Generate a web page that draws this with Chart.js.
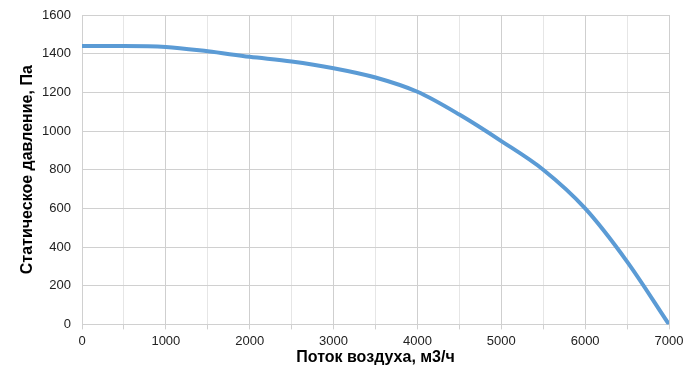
<!DOCTYPE html>
<html>
<head>
<meta charset="utf-8">
<script src="https://cdn.jsdelivr.net/npm/chart.js@4.4.1/dist/chart.umd.min.js"></script>
<style>
  body { margin: 0; background: #fff; }
  #wrap { width: 700px; height: 388px; }
</style>
</head>
<body>
<div id="wrap"><canvas id="fanChart" width="700" height="388"></canvas></div>
<script>
// кривая вентилятора
const flow = [0, 500, 1000, 1500, 2000, 2500, 3000, 3500, 4000, 4500, 5000, 5500, 6000, 6500, 7000];
const pressure = [1440, 1440, 1435, 1412, 1384, 1360, 1325, 1277, 1203, 1085, 948, 800, 600, 325, 0];
const xTitle = 'Поток воздуха, м3/ч';
const yTitle = 'Статическое давление, Па';

const points = flow.map((x, i) => ({ x: x, y: pressure[i] }));

function gridCol(ctx) {
  if (!ctx.tick) return '#d9d9d9';
  return ctx.tick.value % 1000 === 0 ? '#cfcfcf' : '#e6e6e6';
}

new Chart(document.getElementById('fanChart').getContext('2d'), {
  type: 'line',
  data: {
    datasets: [{
      data: points,
      borderColor: '#5b9bd5',
      borderWidth: 4,
      pointRadius: 0,
      fill: false,
      cubicInterpolationMode: 'monotone'
    }]
  },
  options: {
    responsive: false,
    animation: false,
    layout: { padding: { left: 14, right: 31, top: 15, bottom: 18 } },
    plugins: { legend: { display: false }, tooltip: { enabled: false } },
    scales: {
      x: {
        type: 'linear',
        min: 0,
        max: 7000,
        ticks: {
          stepSize: 500,
          autoSkip: false,
          maxRotation: 0,
          color: '#222',
          font: { family: 'Liberation Sans', size: 13 },
          padding: 4,
          callback: v => (v % 1000 === 0 ? String(v) : '')
        },
        grid: { color: gridCol, tickLength: 5, tickColor: '#d0d0d0' },
        border: { color: '#d0d0d0' },
        title: {
          display: true,
          text: xTitle,
          color: '#000',
          font: { family: 'Liberation Sans', size: 16, weight: 'bold', lineHeight: 1 },
          padding: { top: -3 }
        }
      },
      y: {
        min: 0,
        max: 1600,
        afterFit: scale => {
          scale.width = 68;
          scale.paddingTop = 0;
        },
        ticks: {
          stepSize: 200,
          color: '#222',
          font: { family: 'Liberation Sans', size: 13 },
          padding: 11,
          callback: v => String(v)
        },
        grid: { color: '#d0d0d0', drawTicks: false },
        border: { color: '#d0d0d0' },
        title: {
          display: true,
          text: yTitle,
          color: '#000',
          font: { family: 'Liberation Sans', size: 16, weight: 'bold' },
          padding: { bottom: 6 }
        }
      }
    }
  }
});
</script>
</body>
</html>
